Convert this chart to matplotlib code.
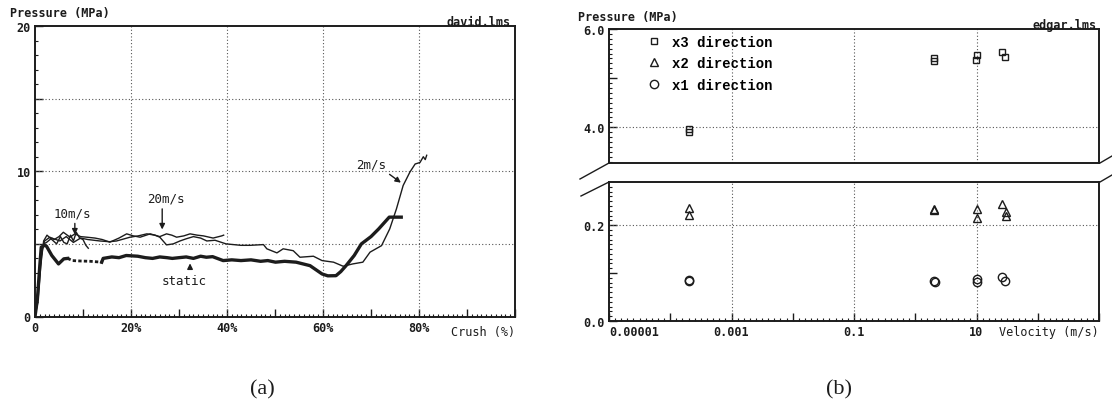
import numpy as np
import matplotlib
matplotlib.use('Agg')
import matplotlib.pyplot as plt
from matplotlib.lines import Line2D
from matplotlib.ticker import FixedLocator, NullFormatter

# ---- panel (a): pressure vs crush ----
static_x = [0, 0.5, 1.0, 1.3, 2.0, 2.4, 3.5, 4.9, 6.0, 6.8, 7.8, 9.5, 11.5, 13.9, 14.2, 16.0, 17.5,
            19.0, 21.4, 23.0, 24.5, 26.0, 27.5, 28.6, 30.0, 31.5, 33.0, 34.5, 35.7, 37.0, 39.2,
            41.0, 42.9, 45.0, 47.0, 48.5, 50.1, 52.0, 54.4, 57.3, 59.8, 61.0, 62.7, 63.7, 64.8,
            66.5, 68.0, 70.0, 71.6, 73.8, 76.3]
static_y = [0, 1.2, 3.5, 4.77, 4.9, 4.84, 4.2, 3.62, 3.97, 4.0, 3.85, 3.82, 3.8, 3.74, 4.0, 4.1, 4.05,
            4.2, 4.15, 4.05, 4.0, 4.1, 4.05, 4.0, 4.05, 4.1, 4.0, 4.15, 4.08, 4.12, 3.85,
            3.9, 3.85, 3.9, 3.8, 3.85, 3.74, 3.8, 3.74, 3.5, 2.93, 2.8, 2.81, 3.09, 3.5,
            4.2, 5.0, 5.5, 6.03, 6.84, 6.84]

v2_x = [0, 0.6, 1.2, 1.8, 2.4, 3.5, 5.2, 6.5, 8.0, 9.5, 11.0, 13.5, 15.5, 17.0, 19.8, 21.5, 23.3,
        25.0, 26.0, 27.4, 28.8, 30.2, 31.5, 33.0, 34.5, 35.8, 37.5, 39.8, 42.9, 44.8, 47.6,
        48.3, 50.4, 51.7, 53.8, 55.2, 58.0, 59.8, 62.2, 64.2, 66.2, 68.3, 69.8, 72.2, 73.9,
        75.3, 76.7, 78.1, 79.2, 80.2, 80.9, 81.3, 81.6]
v2_y = [0, 1.5, 4.0, 5.0, 5.1, 5.4, 5.2, 5.5, 5.1, 5.4, 5.3, 5.2, 5.15, 5.2, 5.46, 5.55, 5.69,
        5.6, 5.46, 4.93, 5.0, 5.2, 5.35, 5.5, 5.4, 5.2, 5.25, 5.0, 4.9, 4.9, 4.95,
        4.66, 4.38, 4.66, 4.53, 4.08, 4.15, 3.85, 3.74, 3.46, 3.62, 3.74, 4.43, 4.88, 6.03,
        7.41, 9.02, 9.94, 10.5, 10.6, 11.0, 10.8, 11.1]

v20_x = [0, 0.7, 1.4, 2.0, 3.1, 4.0, 5.0, 5.9, 7.3, 8.3, 9.5, 10.8, 12.5, 14.0, 15.6, 17.5, 19.1,
         20.5, 21.9, 24.0, 26.0, 27.4, 28.5, 29.5, 31.0, 32.3, 33.8, 35.1, 37.1, 38.9, 39.3]
v20_y = [0, 2.0, 4.5, 5.2, 5.46, 5.3, 5.5, 5.8, 5.46, 5.69, 5.5, 5.46, 5.4, 5.3, 5.12, 5.4, 5.69,
         5.55, 5.46, 5.69, 5.5, 5.69, 5.6, 5.46, 5.55, 5.69, 5.6, 5.55, 5.4, 5.55, 5.6]

v10_x = [0, 0.6, 1.2, 1.8, 2.5, 3.5, 4.5, 5.3, 6.0, 6.7, 7.4, 8.0, 8.6, 9.3, 10.0, 10.6, 11.1]
v10_y = [0, 1.0, 3.5, 5.2, 5.6, 5.3, 5.0, 5.5, 5.1, 5.0, 5.6, 5.2, 5.8, 5.4, 5.3, 4.9, 4.7]

crush_ticks = [0, 10, 20, 30, 40, 50, 60, 70, 80, 90, 100]
crush_labels = ['0', '', '20%', '', '40%', '', '60%', '', '80%', '', '']

# ---- panel (b): pressure vs velocity ----
vel_x3 = [2e-4, 2e-4, 2.0, 2.05, 9.8, 10.2, 26.5, 29.5]
p_x3 = [3.96, 3.90, 5.41, 5.35, 5.37, 5.48, 5.53, 5.43]
vel_x2 = [2e-4, 2e-4, 2.0, 2.0, 10.0, 10.0, 26.5, 30.0, 30.0]
p_x2 = [0.235, 0.221, 0.232, 0.233, 0.233, 0.214, 0.244, 0.228, 0.220]
vel_x1 = [2e-4, 2e-4, 2.0, 2.1, 10.0, 10.0, 26.5, 29.5]
p_x1 = [0.085, 0.083, 0.083, 0.081, 0.0875, 0.082, 0.091, 0.084]

vel_ticks = [1e-5, 1e-4, 1e-3, 1e-2, 1e-1, 1, 10, 100, 1000]
vel_labels = ['0.00001', '', '0.001', '', '0.1', '', '10', '', '']

W, H = 1112, 414
INK = '#1c1c1c'
GRID = dict(color='#555555', lw=0.8, ls=(0, (1, 2)))
MONO = 'DejaVu Sans Mono'

fig = plt.figure(figsize=(W / 100, H / 100), dpi=100)
fig.patch.set_facecolor('white')


def px_axes(x0, y0, x1, y1):
    # pixel box (top-left origin) -> figure axes
    return fig.add_axes([x0 / W, 1 - y1 / H, (x1 - x0) / W, (y1 - y0) / H])


def style(ax):
    for s in ax.spines.values():
        s.set_color(INK)
        s.set_linewidth(1.4)
    ax.tick_params(which='both', direction='in', colors=INK, top=False, right=False)
    ax.tick_params(which='major', length=6, width=1.0, pad=3)
    ax.tick_params(which='minor', length=2.5, width=0.8)
    ax.xaxis.set_minor_formatter(NullFormatter())
    ax.yaxis.set_minor_formatter(NullFormatter())
    for lab in ax.get_xticklabels() + ax.get_yticklabels():
        lab.set_fontfamily(MONO)
        lab.set_fontsize(8.5)
        lab.set_fontweight('bold')


# ===== (a) =====
ax = px_axes(35, 27, 515, 317.5)
ax.set_xlim(0, 100)
ax.set_ylim(0, 20)
for g in [20, 40, 60, 80]:
    ax.axvline(g, **GRID)
for g in [5, 10, 15]:
    ax.axhline(g, **GRID)

sx = np.array(static_x)
sy = np.array(static_y)
solid1 = sx <= 6.8
dots = (sx >= 6.8) & (sx <= 13.9)
solid2 = sx >= 13.9
ax.plot(sx[solid1], sy[solid1], color=INK, lw=2.4)
ax.plot(sx[dots], sy[dots], color=INK, lw=2.0, ls=(0, (1.2, 0.8)))
ax.plot(sx[solid2], sy[solid2], color=INK, lw=2.4)
ax.plot(v2_x, v2_y, color=INK, lw=1.0)
ax.plot(v20_x, v20_y, color=INK, lw=1.0)
ax.plot(v10_x, v10_y, color=INK, lw=1.0)

lab_font = dict(family=MONO, size=9, color=INK, ha='center', va='center')
ax.text(7.7, 7.1, '10m/s', **lab_font)
ax.annotate('', xy=(8.3, 5.45), xytext=(8.3, 6.6),
            arrowprops=dict(arrowstyle='-|>', lw=1.0, color=INK, mutation_scale=8))
ax.text(27.2, 8.15, '20m/s', **lab_font)
ax.annotate('', xy=(26.5, 5.8), xytext=(26.5, 7.6),
            arrowprops=dict(arrowstyle='-|>', lw=1.0, color=INK, mutation_scale=8))
ax.text(31.0, 2.45, 'static', **lab_font)
ax.annotate('', xy=(32.3, 3.85), xytext=(32.3, 3.2),
            arrowprops=dict(arrowstyle='-|>', lw=1.0, color=INK, mutation_scale=8))
ax.text(70.0, 10.5, '2m/s', **lab_font)
ax.annotate('', xy=(76.7, 9.1), xytext=(73.4, 9.9),
            arrowprops=dict(arrowstyle='-|>', lw=1.0, color=INK, mutation_scale=8))

ax.set_xticks(crush_ticks)
ax.set_xticklabels(crush_labels)
ax.xaxis.set_minor_locator(FixedLocator(np.arange(0, 101, 1)))
ax.set_yticks([0, 5, 10, 15, 20])
ax.set_yticklabels(['0', '', '10', '', '20'])
ax.yaxis.set_minor_locator(FixedLocator(np.arange(0, 21, 1)))
style(ax)
ax.text(1.0, -0.052, 'Crush (%)', transform=ax.transAxes, ha='right', va='center',
        family=MONO, size=8.5, color=INK)

fig.text(10 / W, 1 - 14 / H, 'Pressure (MPa)', family=MONO, size=8.5, weight='bold',
         color=INK, ha='left', va='center')
fig.text(511 / W, 1 - 23 / H, 'david.lms', family=MONO, size=8.5, weight='bold',
         color=INK, ha='right', va='center')
fig.text(262 / W, 1 - 390 / H, '(a)', family='Liberation Serif', size=16,
         color=INK, ha='center', va='center')

# ===== (b) =====
axu = px_axes(609, 30, 1099, 164)
axl = px_axes(609, 183, 1099, 322)
for a in (axu, axl):
    a.set_xscale('log')
    a.set_xlim(1e-5, 1e3)
    for g in [1e-3, 1e-1, 10]:
        a.axvline(g, **GRID)
axu.set_ylim(3.27, 6.0)
axl.set_ylim(0, 0.29)
axu.axhline(4.0, **GRID)
axl.axhline(0.2, **GRID)

mk = dict(ls='none', mfc='none', mec=INK, mew=1.0)
axu.plot(vel_x3, p_x3, marker='s', ms=5, **mk)
axl.plot(vel_x2, p_x2, marker='^', ms=6, **mk)
axl.plot(vel_x1, p_x1, marker='o', ms=6, **mk)

handles = [Line2D([], [], marker='s', ms=5, **mk),
           Line2D([], [], marker='^', ms=6, **mk),
           Line2D([], [], marker='o', ms=6, **mk)]
axu.legend(handles, ['x3 direction', 'x2 direction', 'x1 direction'],
           loc='upper left', bbox_to_anchor=(0.066, 1.0), frameon=False,
           handlelength=1.0, handletextpad=0.8, labelspacing=0.55, borderaxespad=0,
           prop=dict(family='Liberation Mono', size=10, weight='bold'))

axu.xaxis.set_major_locator(FixedLocator([]))
axu.xaxis.set_minor_locator(FixedLocator([]))
axu.set_yticks([4.0, 5.0, 6.0])
axu.set_yticklabels(['4.0', '', '6.0'])
axu.yaxis.set_minor_locator(FixedLocator(np.arange(3.3, 6.01, 0.1)))

axl.xaxis.set_major_locator(FixedLocator(vel_ticks))
axl.set_xticklabels(vel_labels)
axl.xaxis.set_minor_locator(FixedLocator(10 ** np.arange(-5, 3.01, 0.1)))
axl.set_yticks([0.0, 0.1, 0.2])
axl.set_yticklabels(['0.0', '', '0.2'])
axl.yaxis.set_minor_locator(FixedLocator(np.arange(0, 0.29, 0.01)))
style(axu)
style(axl)
axl.get_xticklabels()[0].set_horizontalalignment('left')
axl.text(1.0, -0.075, 'Velocity (m/s)', transform=axl.transAxes, ha='right', va='center',
         family=MONO, size=8.5, color=INK)

# axis-break marks
for (x0, y0, x1, y1) in [(609, 164, 580, 180), (609, 183, 581, 197),
                         (1100, 164, 1112, 157), (1100, 183, 1112, 176)]:
    fig.add_artist(Line2D([x0 / W, x1 / W], [1 - y0 / H, 1 - y1 / H], color=INK, lw=1.0))

fig.text(578 / W, 1 - 17 / H, 'Pressure (MPa)', family=MONO, size=8.5, weight='bold',
         color=INK, ha='left', va='center')
fig.text(1097 / W, 1 - 25 / H, 'edgar.lms', family=MONO, size=8.5, weight='bold',
         color=INK, ha='right', va='center')
fig.text(839 / W, 1 - 390 / H, '(b)', family='Liberation Serif', size=16,
         color=INK, ha='center', va='center')

fig.savefig('out.png', dpi=100, facecolor='white')
